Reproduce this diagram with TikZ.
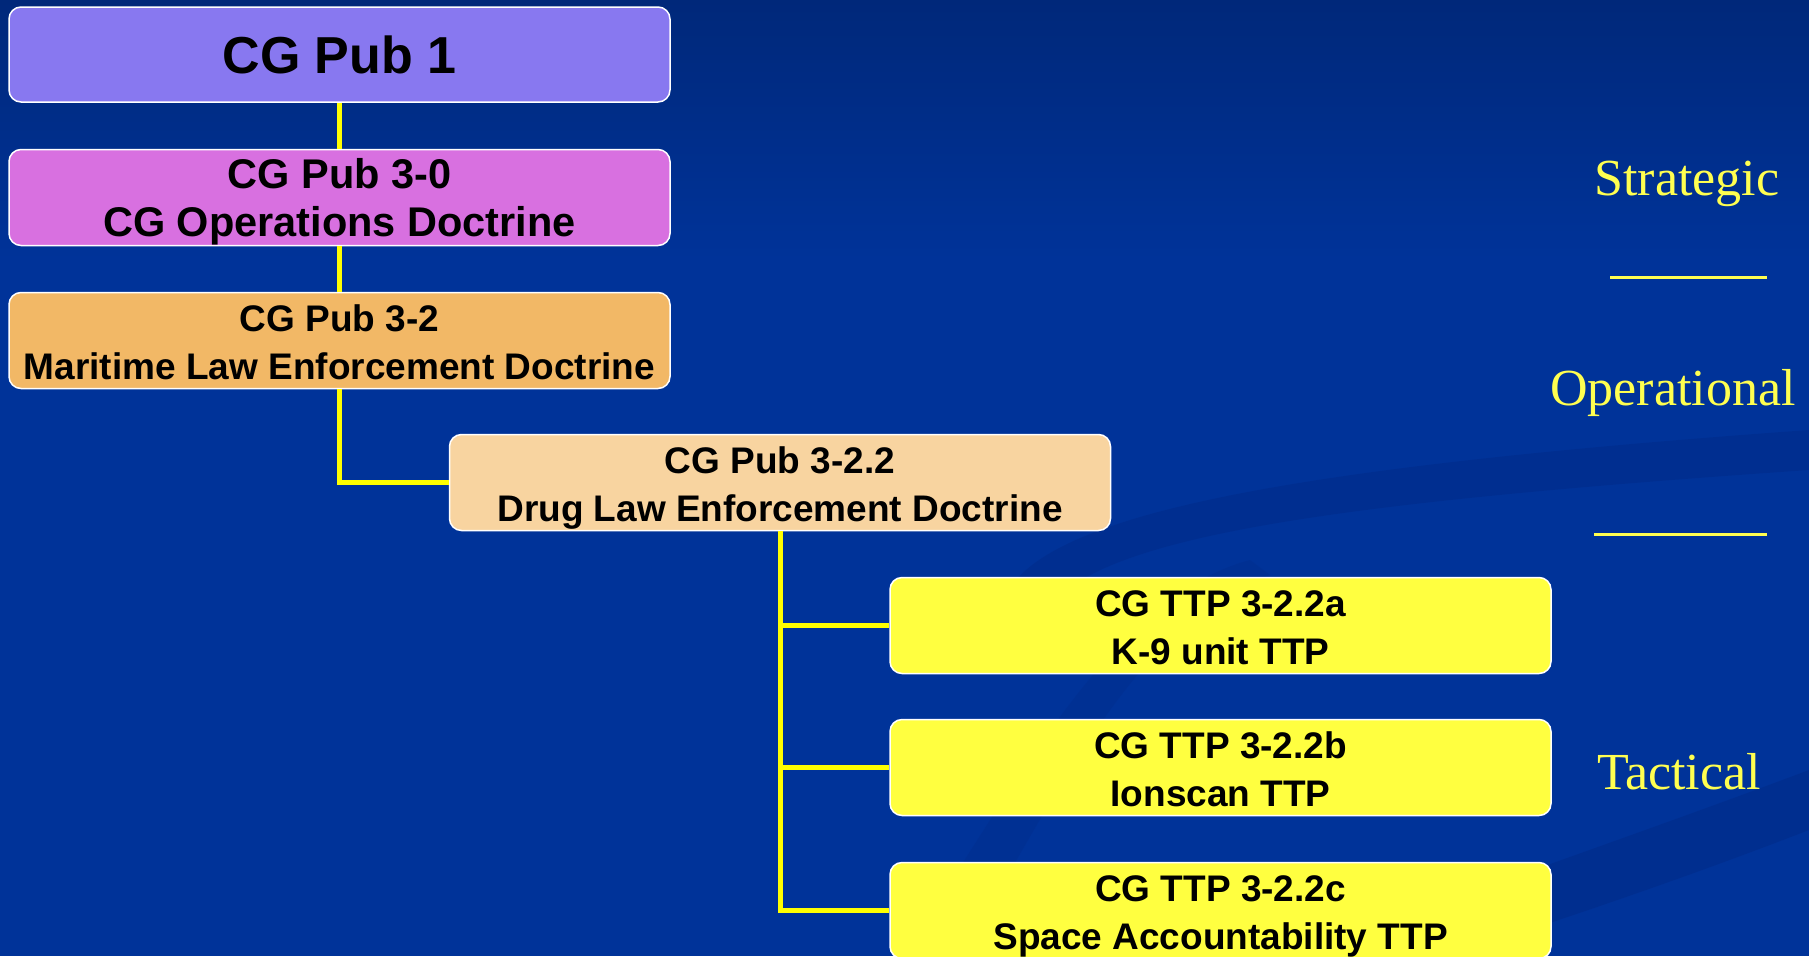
\documentclass[tikz,border=0pt]{standalone}
\usepackage{fontspec}
\setmainfont{Liberation Serif}
\setsansfont{Liberation Sans}
\definecolor{bgblue}{RGB}{0,51,153}
\definecolor{bgtop}{RGB}{0,40,122}
\definecolor{swoosh}{RGB}{0,42,135}
\definecolor{cpurple}{RGB}{136,120,240}
\definecolor{cmagenta}{RGB}{216,112,224}
\definecolor{corange}{RGB}{242,184,102}
\definecolor{cpeach}{RGB}{248,212,160}
\definecolor{cyellow}{RGB}{255,255,64}
\definecolor{lineyellow}{RGB}{255,255,0}
\definecolor{labyellow}{RGB}{255,255,80}
\newcommand\twolines[2]{\raisebox{-5pt}[\height][\depth]{\begin{tabular}{@{}c@{}}#1\\#2\end{tabular}}}
\tikzset{
  docbox/.style={draw=white, line width=1.5pt, rounded corners=12pt,
    minimum width=661pt, minimum height=95pt, inner sep=0pt,
    align=center, text=black, font=\sffamily\bfseries\fontsize{37}{48}\selectfont},
  link/.style={draw=lineyellow, line width=5pt},
  level/.style={text=labyellow, font=\rmfamily\fontsize{52}{60}\selectfont, inner sep=0pt},
  rule/.style={draw=labyellow, line width=3pt}
}
\begin{document}
\begin{tikzpicture}[x=1pt,y=-1pt]
\useasboundingbox (0,0) rectangle (1809,956);
\clip (0,0) rectangle (1809,956);
% background
\fill[bgblue] (0,0) rectangle (1809,956);
\shade[top color=bgtop, bottom color=bgblue] (0,0) rectangle (1809,260);
% faint swooshes
\fill[swoosh, opacity=0.45] (1000,610) .. controls (1020,520) and (1250,470) .. (1809,430)
  -- (1809,470) .. controls (1300,505) and (1080,540) .. (1040,620) -- cycle;
\fill[swoosh, opacity=0.5] (1300,956) .. controls (1500,880) and (1650,830) .. (1809,770)
  -- (1809,830) .. controls (1680,880) and (1560,920) .. (1450,956) -- cycle;
\fill[swoosh, opacity=0.3] (900,956) .. controls (1000,820) and (1100,600) .. (1250,560)
  -- (1270,575) .. controls (1130,620) and (1040,830) .. (960,956) -- cycle;
% boxes
\node[docbox, fill=cpurple, font=\sffamily\bfseries\fontsize{52}{60}\selectfont] (b1) at (339.5,54.5) {CG Pub 1};
\node[docbox, fill=cmagenta, font=\sffamily\bfseries\fontsize{41.5}{48}\selectfont] (b2) at (339.5,197.5) {\twolines{CG Pub 3-0}{CG Operations Doctrine}};
\node[docbox, fill=corange] (b3) at (339.5,340.5) {\twolines{CG Pub 3-2}{Maritime Law Enforcement Doctrine}};
\node[docbox, fill=cpeach] (b4) at (780,482.5) {\twolines{CG Pub 3-2.2}{Drug Law Enforcement Doctrine}};
\node[docbox, fill=cyellow] (b5) at (1220.5,625.5) {\twolines{CG TTP 3-2.2a}{K-9 unit TTP}};
\node[docbox, fill=cyellow] (b6) at (1220.5,767.5) {\twolines{CG TTP 3-2.2b}{Ionscan TTP}};
\node[docbox, fill=cyellow] (b7) at (1220.5,910.5) {\twolines{CG TTP 3-2.2c}{Space Accountability TTP}};
% connectors
\path[link] (b1.south) -- (b2.north);
\path[link] (b2.south) -- (b3.north);
\path[link] (b3.south) |- (b4.west);
\path[link] (b4.south) |- (b5.west);
\path[link] (b4.south) |- (b6.west);
\path[link] (b4.south) |- (b7.west);
% level labels
\node[level] (strat) at (1687,184) {Strategic};
\node[level] (oper) at (1673,393) {Operational};
\node[level] (tact) at (1679,772) {Tactical};
\coordinate (r1a) at (1610,277);
\coordinate (r1b) at (1767,277);
\coordinate (r2a) at (1594,534);
\coordinate (r2b) at (1767,534);
\path[rule] (r1a) -- (r1b);
\path[rule] (r2a) -- (r2b);
\end{tikzpicture}
\end{document}
